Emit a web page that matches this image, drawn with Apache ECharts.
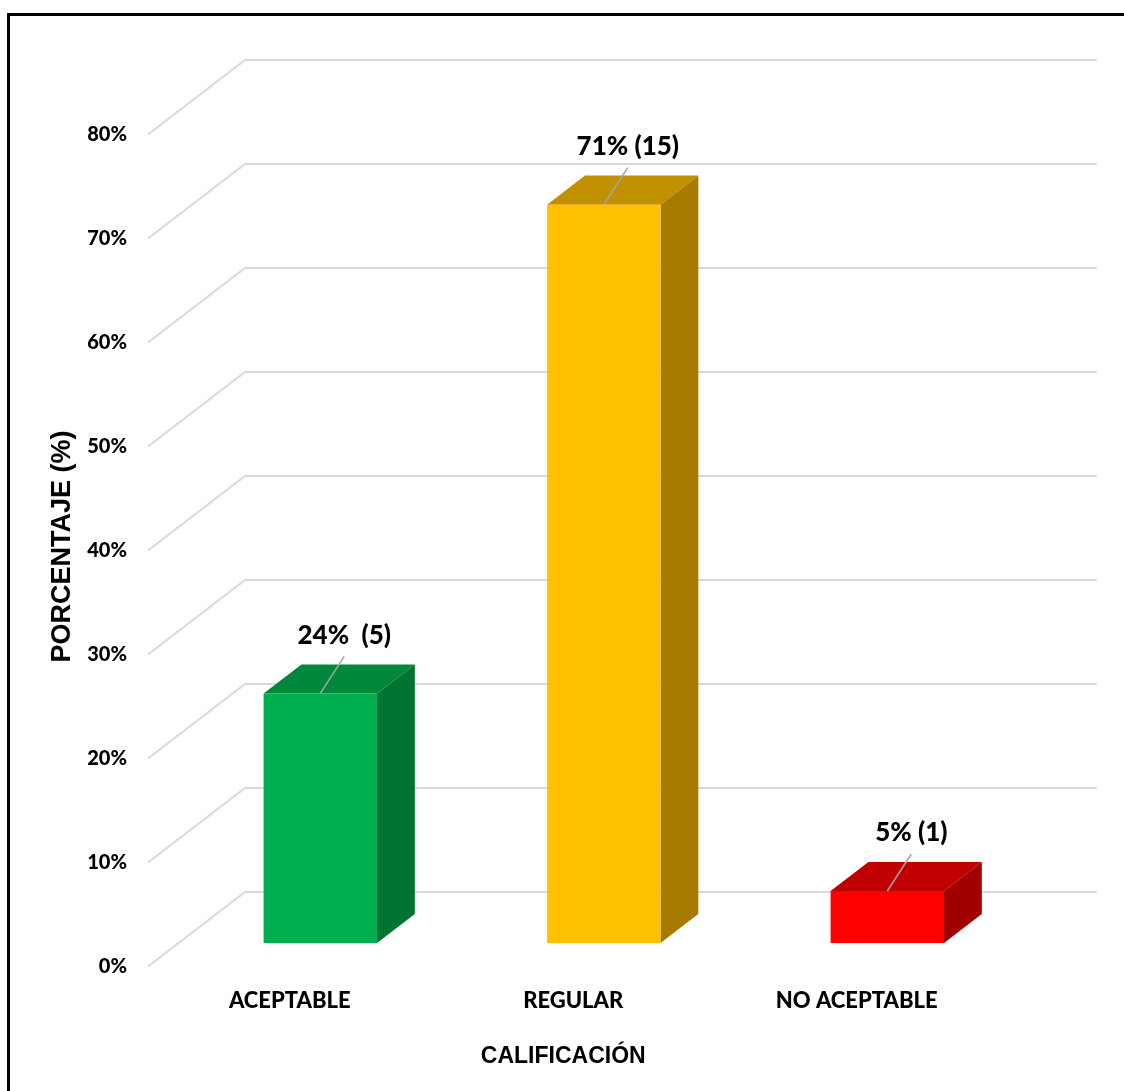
<!DOCTYPE html>
<html>
<head>
<meta charset="utf-8">
<script src="https://cdn.jsdelivr.net/npm/echarts@6/dist/echarts.min.js"></script>
<style>
  html, body { margin: 0; padding: 0; background: #fff; }
  #chart { width: 1124px; height: 1091px; }
</style>
</head>
<body>
<div id="chart"></div>
<script>
// Rating categories and their shares
const categories = ['ACEPTABLE', 'REGULAR', 'NO ACEPTABLE'];
const percentages = [24, 71, 5];
const counts = [5, 15, 1];
const dataLabels = ['24%  (5)', '71% (15)', '5% (1)'];
const yTicks = [0, 10, 20, 30, 40, 50, 60, 70, 80];

// Face shades for the 3D columns: front, top, right side
const faceColors = ['#00B050', '#FFC000', '#FF0000'];
const topColors  = ['#00873C', '#C09000', '#C00000'];
const sideColors = ['#007332', '#A67C00', '#A00000'];

// Floor depth (front plane -> back wall), in pixels
const DEPTH_X = 97, DEPTH_Y = -74.5;
// Column placement inside the floor depth and its width share of a band
const BAR_FRONT = 0.315, BAR_DEPTH = 0.39, BAR_WIDTH = 0.4;

const LABEL_FONT = 'Lato';
const LABEL_WEIGHT = 900;
const TITLE_FONT = '"Liberation Sans", Arial, sans-serif';

const chart = echarts.init(document.getElementById('chart'), null, { renderer: 'canvas' });

function renderGridLine(params, api) {
  const y = api.coord([0, api.value(1)])[1];
  const x0 = params.coordSys.x;
  const xEnd = x0 + params.coordSys.width + DEPTH_X + 1.5;
  return {
    type: 'polyline',
    shape: { points: [[x0, y], [x0 + DEPTH_X, y + DEPTH_Y], [xEnd, y + DEPTH_Y]] },
    style: { stroke: '#d9d9d9', lineWidth: 2, fill: null }
  };
}

function renderColumn(params, api) {
  const i = api.value(0);
  const v = api.value(1);
  const base = api.coord([i, 0]);
  const top = api.coord([i, v]);
  const band = api.size([1, 0])[0];
  const w = band * BAR_WIDTH;
  const ox = BAR_FRONT * DEPTH_X, oy = BAR_FRONT * DEPTH_Y;
  const dx = BAR_DEPTH * DEPTH_X, dy = BAR_DEPTH * DEPTH_Y;
  const cx = base[0] + ox;
  const xl = cx - w / 2, xr = cx + w / 2;
  const yb = base[1] + oy, yt = top[1] + oy;
  return {
    type: 'group',
    children: [
      { type: 'polygon',
        shape: { points: [[xl, yt], [xr, yt], [xr + dx, yt + dy], [xl + dx, yt + dy]] },
        style: { fill: topColors[i] } },
      { type: 'polygon',
        shape: { points: [[xr, yt], [xr, yb], [xr + dx, yb + dy], [xr + dx, yt + dy]] },
        style: { fill: sideColors[i] } },
      { type: 'rect',
        shape: { x: xl, y: yt, width: w, height: yb - yt },
        style: { fill: faceColors[i] } },
      { type: 'line',
        shape: { x1: cx, y1: yt, x2: cx + 24, y2: yt - 37 },
        style: { stroke: '#a6a6a6', lineWidth: 1.5 } },
      { type: 'text',
        style: {
          text: dataLabels[i], x: cx + 24, y: yt - 58,
          align: 'center', verticalAlign: 'middle',
          fontFamily: LABEL_FONT, fontWeight: LABEL_WEIGHT, fontSize: 26, fill: '#000'
        } }
    ]
  };
}

const option = {
  backgroundColor: '#ffffff',
  animation: false,
  grid: { left: 148, top: 134.5, width: 850.5, height: 832 },
  xAxis: {
    type: 'category',
    data: categories,
    axisLine: { show: false },
    axisTick: { show: false },
    axisLabel: {
      margin: 23, color: '#000',
      fontFamily: LABEL_FONT, fontWeight: LABEL_WEIGHT, fontSize: 22
    },
    name: 'CALIFICACIÓN',
    nameLocation: 'middle',
    nameGap: 79,
    nameTextStyle: {
      color: '#000', fontFamily: TITLE_FONT, fontWeight: 'bold', fontSize: 23,
      padding: [0, 20, 0, 0]
    }
  },
  yAxis: {
    type: 'value',
    min: 0, max: 80, interval: 10,
    axisLine: { show: false },
    axisTick: { show: false },
    splitLine: { show: false },
    axisLabel: {
      formatter: '{value}%', margin: 21, color: '#000',
      fontFamily: LABEL_FONT, fontWeight: LABEL_WEIGHT, fontSize: 20
    },
    name: 'PORCENTAJE (%)',
    nameLocation: 'middle',
    nameRotate: 90,
    nameGap: 68,
    nameTextStyle: {
      color: '#000', fontFamily: TITLE_FONT, fontWeight: 'bold', fontSize: 27,
      padding: [0, 0, 0, 8]
    }
  },
  graphic: [{
    type: 'rect',
    shape: { x: 8.5, y: 14.5, width: 1130, height: 1090 },
    style: { fill: null, stroke: '#000', lineWidth: 3 },
    z: 100
  }],
  series: [
    {
      type: 'custom',
      name: 'gridlines',
      z: 1,
      silent: true,
      renderItem: renderGridLine,
      data: yTicks.map(v => [0, v])
    },
    {
      type: 'custom',
      name: 'PORCENTAJE',
      z: 2,
      renderItem: renderColumn,
      data: percentages.map((v, i) => [i, v, counts[i]])
    }
  ]
};

chart.setOption(option);
</script>
</body>
</html>
